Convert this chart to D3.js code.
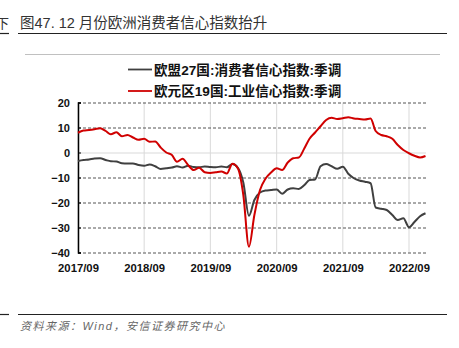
<!DOCTYPE html>
<html><head><meta charset="utf-8">
<script src="https://cdn.jsdelivr.net/npm/d3@7"></script>
<style>
body{margin:0;background:#fff;}
svg{display:block;}
text{font-family:"Liberation Sans","Noto Sans CJK SC",Arial,sans-serif;}
</style></head>
<body>
<script>
const startMonth = "2017-09";
const seriesNames = ["欧盟27国:消费者信心指数:季调", "欧元区19国:工业信心指数:季调"];
const euConsumer = [-3.4,-3.0,-2.8,-2.4,-2.3,-3.0,-3.5,-3.6,-4.3,-4.4,-4.4,-5.0,-5.3,-4.8,-5.5,-6.6,-6.3,-6.0,-5.5,-6.0,-5.3,-5.8,-5.9,-5.6,-5.8,-5.9,-5.6,-5.9,-4.6,-6.2,-12,-25.3,-19,-16,-15.2,-15,-14.8,-16.5,-14.8,-14.3,-14.6,-13,-11,-10.8,-5.5,-4.6,-5.5,-6.5,-5.7,-8.5,-10.3,-11.2,-11.7,-12.3,-22,-22.5,-23,-25,-27,-26.3,-29.9,-27.8,-25.5,-24.3];
const eaIndustry = [7.9,8.8,9.0,9.3,9.7,8.6,7.3,8.1,6.5,7.0,6.0,5.1,5.5,4.3,4.4,2.0,0.0,-1.0,-3.7,-2.5,-5.0,-7.0,-6.1,-7.9,-8.2,-7.9,-7.6,-8.4,-4.5,-6.5,-17,-37.7,-25,-15,-10.5,-8,-6.3,-7,-4,-2.3,-2.0,1.7,5.5,8.0,10.5,13.0,13.9,13.4,13.7,14.1,13.6,13.4,13.2,13.6,8.6,7.0,6.5,5.5,3.0,1.0,-0.3,-1.3,-2.0,-1.4];
const yTicks = [20,10,0,-10,-20,-30,-40];
const xTickLabels = ["2017/09","2018/09","2019/09","2020/09","2021/09","2022/09"];
const colors = ["#404040","#d00000"];
const title = "图47. 12 月份欧洲消费者信心指数抬升";
const source = "资料来源：Wind，安信证券研究中心";

const W = 459, H = 348;
const svg = d3.select("body").append("svg").attr("width", W).attr("height", H);

const parse = d3.timeParse("%Y-%m");
const t0 = parse(startMonth);
const dates = euConsumer.map((_, i) => d3.timeMonth.offset(t0, i));
const tickDates = xTickLabels.map(s => d3.timeParse("%Y/%m")(s));

const x = d3.scaleTime().domain([t0, d3.timeMonth.offset(t0, 63)]).range([78, 425.5]);
const y = d3.scaleLinear().domain([-40, 20]).range([252.5, 102.5]);

// header
svg.append("text").attr("x", -4).attr("y", 28).attr("font-size", 13).attr("fill", "#333").text("下");
svg.append("line").attr("x1", 0).attr("x2", 9).attr("y1", 33.5).attr("y2", 33.5).attr("stroke", "#222").attr("stroke-width", 1.2);
svg.append("text").attr("x", 20).attr("y", 28).attr("font-size", 14.5).attr("fill", "#333")
  .attr("font-family", "'Noto Sans CJK SC',sans-serif").text(title);
svg.append("line").attr("x1", 18).attr("x2", 447).attr("y1", 33.5).attr("y2", 33.5).attr("stroke", "#222").attr("stroke-width", 1.2);
svg.append("line").attr("x1", 25).attr("x2", 440).attr("y1", 54.5).attr("y2", 54.5).attr("stroke", "#c0c0c0").attr("stroke-width", 1);

// vertical grid
svg.append("g").selectAll("line").data(tickDates).join("line")
  .attr("x1", d => x(d)).attr("x2", d => x(d)).attr("y1", y(20)).attr("y2", y(-40))
  .attr("stroke", "#d9d9d9").attr("stroke-width", 1);

// horizontal grid
svg.append("g").selectAll("line").data(yTicks).join("line")
  .attr("x1", 78).attr("x2", 426).attr("y1", d => y(d) + 0.5).attr("y2", d => y(d) + 0.5)
  .attr("stroke", d => d === 0 ? "#d9d9d9" : "#555")
  .attr("stroke-width", 1)
  .attr("stroke-dasharray", d => d === 0 ? null : "3,2");

// y axis
const yAxis = d3.axisLeft(y).tickValues(yTicks).tickSize(-3).tickPadding(8).tickFormat(d => d < 0 ? "\u2212" + Math.abs(d) : d);
const gy = svg.append("g").attr("transform", "translate(78,0)").call(yAxis);
gy.select(".domain").attr("stroke", "#000").attr("stroke-width", 1.5);
gy.selectAll(".tick line").attr("stroke", "#000");
gy.selectAll("text").attr("font-size", 11).attr("font-weight", "bold").attr("fill", "#111")
  .attr("font-family", "'Liberation Sans',Arial,sans-serif");

// x axis labels
const xAxis = d3.axisBottom(x).tickValues(tickDates).tickSize(0).tickPadding(11).tickFormat((d, i) => xTickLabels[i]);
const gx = svg.append("g").attr("transform", "translate(0," + y(-40) + ")").call(xAxis);
gx.select(".domain").remove();
gx.selectAll("text").attr("font-size", 11.3).attr("font-weight", "bold").attr("fill", "#111")
  .attr("font-family", "'Liberation Sans',Arial,sans-serif");

// lines
const line = d3.line().x((d, i) => x(dates[i])).y(d => y(d)).curve(d3.curveMonotoneX);
[euConsumer, eaIndustry].forEach((s, k) => {
  svg.append("path").datum(s).attr("d", line).attr("fill", "none")
    .attr("stroke", colors[k]).attr("stroke-width", 2).attr("stroke-linejoin", "round");
});

// legend
const leg = svg.append("g");
seriesNames.forEach((n, k) => {
  const yy = 69.5 + k * 21.5;
  leg.append("line").attr("x1", 128).attr("x2", 152).attr("y1", yy).attr("y2", yy)
    .attr("stroke", colors[k]).attr("stroke-width", 1.8);
  leg.append("text").attr("x", 154).attr("y", yy + 5).attr("font-size", 13.6).attr("font-weight", "bold")
    .attr("fill", "#111").attr("font-family", "'Noto Sans CJK SC',sans-serif").text(n);
});

// footer
svg.append("line").attr("x1", 0).attr("x2", 9).attr("y1", 314.5).attr("y2", 314.5).attr("stroke", "#222").attr("stroke-width", 1.2);
svg.append("line").attr("x1", 18).attr("x2", 447).attr("y1", 314.5).attr("y2", 314.5).attr("stroke", "#222").attr("stroke-width", 1.2);
svg.append("text").attr("x", 20).attr("y", 330).attr("font-size", 11).attr("font-style", "italic")
  .attr("letter-spacing", 1.5)
  .attr("fill", "#666").attr("font-family", "'Noto Sans CJK SC',sans-serif").text(source);
</script>
</body></html>
